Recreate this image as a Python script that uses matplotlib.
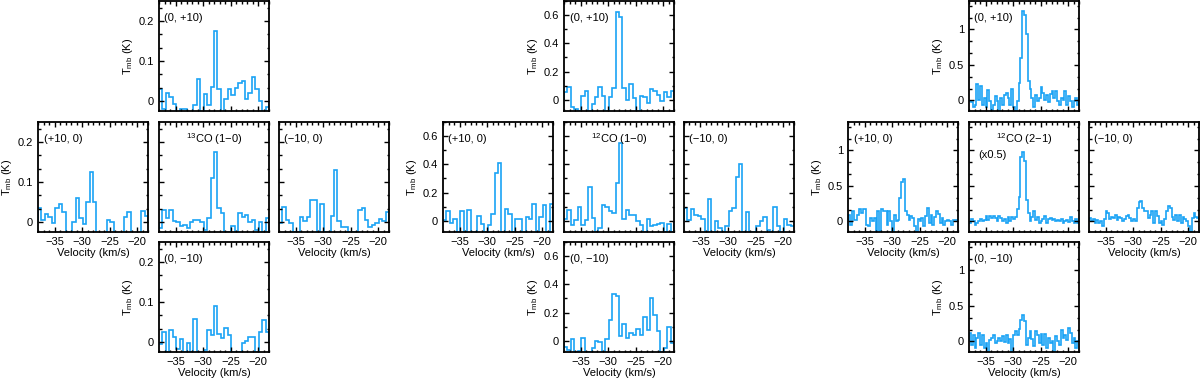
import numpy as np
import matplotlib
matplotlib.use('Agg')
import matplotlib.pyplot as plt
from matplotlib.ticker import MultipleLocator, AutoMinorLocator, FuncFormatter

plt.rcParams['font.family'] = ['Liberation Sans', 'DejaVu Sans']
plt.rcParams['mathtext.default'] = 'regular'

# velocity channels (km/s)
v_edges_10 = np.linspace(-38, -18, 33)   # CO 1-0, 32 channels
v_edges_21 = np.linspace(-38, -18, 61)   # CO 2-1, 60 channels

# 13CO (1-0), Tmb in K
co13_n = [0.03, -0.02, 0.02, 0.01, -0.007, -0.03, -0.02, -0.02, -0.03, -0.03, -0.01, 0.055,
          -0.03, 0.017, -0.01, 0.035, 0.175, 0.03, -0.03, 0.005, 0.03, 0.015, 0.032, 0.045,
          0.05, 0.004, 0.02, 0.06, 0.03, 0.0, -0.03, -0.015]
co13_e = [0.035, 0.005, 0.02, 0.012, -0.003, 0.035, 0.045, 0.025, -0.025, -0.027, 0.0, 0.06,
          0.01, -0.005, 0.05, 0.125, 0.05, -0.027, -0.03, -0.03, 0.006, 0.0, -0.03, -0.03,
          -0.03, 0.012, 0.025, -0.03, -0.03, -0.03, 0.028, 0.015]
co13_c = [-0.015, 0.03, 0.01, 0.03, 0.003, 0.0, -0.01, -0.008, -0.015, 0.0, 0.005, 0.005,
          0.0, -0.02, 0.01, 0.11, 0.175, 0.035, 0.023, -0.025, -0.025, -0.01, -0.025, 0.023,
          0.012, 0.018, 0.0, 0.005, -0.02, 0.0, -0.025, 0.01]
co13_w = [-0.003, 0.038, 0.006, -0.003, -0.025, -0.025, 0.013, 0.002, 0.013, 0.054, 0.056, -0.025,
          0.044, -0.025, -0.025, 0.014, 0.13, 0.003, -0.012, -0.012, -0.025, -0.025, -0.025, 0.03,
          0.035, 0.006, -0.013, -0.007, -0.003, 0.008, 0.003, 0.025]
co13_s = [-0.005, 0.025, -0.025, 0.03, 0.013, -0.017, 0.007, -0.025, -0.002, -0.025, 0.057, -0.025,
          -0.025, -0.02, 0.031, 0.017, 0.09, 0.019, 0.01, 0.034, 0.017, -0.025, -0.025, -0.025,
          -0.003, 0.002, 0.013, 0.013, -0.025, 0.025, 0.055, 0.025]

# 12CO (1-0)
co10_n = [0.056, 0.09, -0.054, -0.066, -0.078, 0.024, 0.064, -0.078, -0.03, 0.016, 0.09, 0.028,
          -0.078, 0.016, 0.08, 0.62, 0.59, 0.08, 0.0, 0.11, 0.012, -0.078, 0.028, 0.016,
          -0.02, 0.075, 0.064, 0.035, -0.007, 0.052, 0.016, 0.06]
co10_e = [0.007, 0.07, -0.017, 0.015, -0.08, 0.07, -0.08, 0.077, -0.08, -0.08, 0.03, -0.024,
          -0.08, -0.03, 0.045, 0.335, 0.41, -0.08, 0.085, 0.045, -0.08, 0.014, 0.014, -0.08,
          0.024, 0.01, 0.12, -0.08, 0.024, 0.115, -0.08, 0.12]
co10_c = [0.014, 0.074, -0.03, 0.007, 0.096, -0.03, 0.007, 0.24, 0.02, -0.08, -0.05, 0.11,
          0.096, 0.072, 0.055, 0.27, 0.55, 0.015, 0.074, 0.038, 0.043, -0.005, -0.029, -0.08,
          0.014, -0.04, -0.03, -0.025, -0.017, -0.08, -0.025, -0.08]
co10_w = [0.09, 0.007, 0.084, 0.038, 0.031, 0.012, -0.08, 0.156, -0.08, 0.0, -0.053, -0.08,
          -0.04, 0.072, 0.09, 0.31, 0.40, -0.08, 0.062, -0.08, -0.08, -0.036, 0.0, 0.024,
          -0.065, -0.08, 0.1, -0.04, -0.08, 0.014, -0.03, -0.04]
co10_s = [-0.047, -0.064, 0.014, -0.08, -0.07, 0.019, -0.08, -0.08, -0.05, -0.005, -0.01, -0.08,
          0.014, 0.15, 0.33, 0.32, 0.03, 0.118, 0.019, 0.055, 0.038, 0.085, 0.043, 0.17,
          0.078, 0.3, 0.185, 0.066, -0.08, -0.05, 0.1, -0.017]

# 12CO (2-1)
co21_n = [-0.01, -0.03, -0.09, -0.07, 0.23, 0.01, 0.2, -0.06, 0.04, -0.1, 0.14, -0.01,
          -0.13, -0.07, 0.06, -0.01, -0.15, 0.04, -0.06, 0.08, 0.1, 0.04, -0.06, 0.16,
          -0.09, -0.15, -0.01, 0.24, 0.6, 1.26, 1.2, 0.94, 0.27, 0.16, 0.04, -0.1,
          0.08, -0.01, 0.04, 0.19, 0.11, 0.01, 0.08, -0.03, 0.09, 0.13, 0.04, 0.13,
          -0.01, -0.06, 0.04, 0.0, 0.13, -0.06, 0.06, -0.01, -0.09, -0.01, 0.04, -0.06]
co21_e = [0.09, -0.05, 0.14, 0.02, 0.02, 0.09, 0.17, 0.12, 0.17, 0.18, -0.05, -0.07,
          0.05, 0.0, 0.05, -0.15, 0.14, -0.14, 0.18, 0.14, 0.14, -0.05, 0.14, 0.0,
          -0.15, 0.09, 0.0, 0.02, 0.33, 0.56, 0.6, 0.15, 0.09, 0.02, 0.07, 0.05,
          -0.07, -0.15, 0.04, 0.0, 0.05, -0.07, 0.07, 0.19, -0.02, 0.09, -0.05, 0.06,
          0.14, 0.1, -0.02, 0.05, -0.05, 0.0, 0.02, 0.0, -0.05, 0.02, 0.02, 0.02]
co21_c = [-0.02, 0.04, 0.0, -0.05, -0.02, 0.0, 0.04, 0.0, 0.02, 0.07, 0.02, 0.08,
          0.05, 0.08, 0.05, 0.0, 0.07, 0.05, 0.01, 0.04, -0.02, 0.06, 0.01, 0.06,
          0.03, 0.06, 0.17, 0.35, 0.9, 0.98, 0.85, 0.3, 0.12, 0.0, 0.06, 0.14,
          0.02, 0.06, -0.02, 0.01, 0.04, 0.08, -0.02, 0.04, 0.05, 0.02, 0.04, 0.0,
          0.02, 0.01, 0.04, -0.02, 0.01, 0.02, -0.01, 0.06, 0.01, -0.02, 0.04, -0.02]
co21_w = [0.05, 0.01, 0.04, -0.02, 0.02, -0.02, 0.0, -0.06, 0.03, 0.14, 0.12, 0.04,
          0.06, 0.05, 0.09, 0.02, 0.06, 0.05, 0.01, 0.03, 0.07, 0.09, 0.05, 0.0,
          0.04, 0.0, 0.19, 0.27, 0.28, 0.19, 0.14, 0.14, 0.05, 0.09, 0.15, -0.02,
          0.14, 0.08, -0.02, 0.0, -0.05, 0.03, 0.14, 0.21, 0.19, 0.06, 0.02, 0.09,
          0.0, 0.09, -0.02, 0.06, 0.03, 0.0, -0.07, -0.15, 0.05, 0.12, 0.06, 0.05]
co21_s = [0.12, -0.05, 0.09, -0.09, 0.05, 0.12, -0.05, 0.09, -0.09, -0.02, -0.15, 0.02,
          0.05, 0.09, -0.02, 0.0, 0.05, 0.01, 0.07, -0.01, 0.09, -0.02, 0.04, -0.15,
          0.09, 0.14, 0.09, 0.18, 0.3, 0.37, 0.28, -0.05, 0.05, 0.14, 0.03, -0.07,
          0.14, 0.09, -0.02, 0.1, -0.05, 0.1, -0.09, 0.05, -0.02, 0.0, -0.15, 0.07,
          0.01, -0.05, 0.16, 0.05, 0.09, 0.02, 0.19, 0.12, -0.02, 0.05, -0.09, 0.01]

offsets = ['(0, +10)', '(+10, 0)', None, '(\u221210, 0)', '(0, \u221210)']
groups = [
    dict(edges=v_edges_10, spec=[co13_n, co13_e, co13_c, co13_w, co13_s],
         ylim=(-0.025, 0.25), major=0.1, minor=3, title='$^{13}$CO (1\u22120)', note=None),
    dict(edges=v_edges_10, spec=[co10_n, co10_e, co10_c, co10_w, co10_s],
         ylim=(-0.08, 0.7), major=0.2, minor=2, title='$^{12}$CO (1\u22120)', note=None),
    dict(edges=v_edges_21, spec=[co21_n, co21_e, co21_c, co21_w, co21_s],
         ylim=(-0.15, 1.4), major=0.5, minor=3, title='$^{12}$CO (2\u22121)', note='(x0.5)'),
]

col = '#1aa3f5'
fs = 8
W, H = 1200., 380.
fig = plt.figure(figsize=(12, 3.8), dpi=100)

def panel(x, y):
    return fig.add_axes([x / W, 1 - (y + 110) / H, 110 / W, 110 / H])

for g, gx in zip(groups, [159, 564, 969]):
    # top, left, center, right, bottom
    pos = [(gx, 1), (gx - 121, 122), (gx, 122), (gx + 120, 122), (gx, 242)]
    for k, (px, py) in enumerate(pos):
        ax = panel(px, py)
        ax.stairs(g['spec'][k], g['edges'], color=col, lw=1.2)
        ax.set_xlim(-38, -18)
        ax.set_ylim(*g['ylim'])
        ax.xaxis.set_major_locator(MultipleLocator(5))
        ax.xaxis.set_minor_locator(MultipleLocator(1))
        ax.yaxis.set_major_locator(MultipleLocator(g['major']))
        ax.yaxis.set_minor_locator(AutoMinorLocator(g['minor']))
        ax.yaxis.set_major_formatter(FuncFormatter(lambda v, p: '%g' % round(v, 3)))
        ax.tick_params(which='both', direction='in', top=True, right=True,
                       labelsize=fs, width=1.0, pad=3.5)
        ax.tick_params(which='major', length=3.5)
        ax.tick_params(which='minor', length=1.8)
        for s in ax.spines.values():
            s.set_linewidth(1.3)
        showx = k in (1, 3, 4)
        showy = k in (0, 1, 4)
        ax.tick_params(labelbottom=showx, labelleft=showy)
        if showx:
            ax.set_xlabel('Velocity (km/s)', fontsize=fs, labelpad=0.5)
        if showy:
            ax.set_ylabel('T$_{mb}$ (K)', fontsize=fs)
            ax.yaxis.set_label_coords(-0.215, 0.5)
        if offsets[k]:
            ax.text(0.05, 0.845, offsets[k], transform=ax.transAxes,
                    fontsize=fs, va='center', ha='left')
        else:
            ax.text(0.5, 0.845, g['title'], transform=ax.transAxes,
                    fontsize=fs, va='center', ha='center')
            if g['note']:
                ax.text(0.08, 0.70, g['note'], transform=ax.transAxes,
                        fontsize=fs, va='center', ha='left')

fig.savefig('out.png', dpi=100)
